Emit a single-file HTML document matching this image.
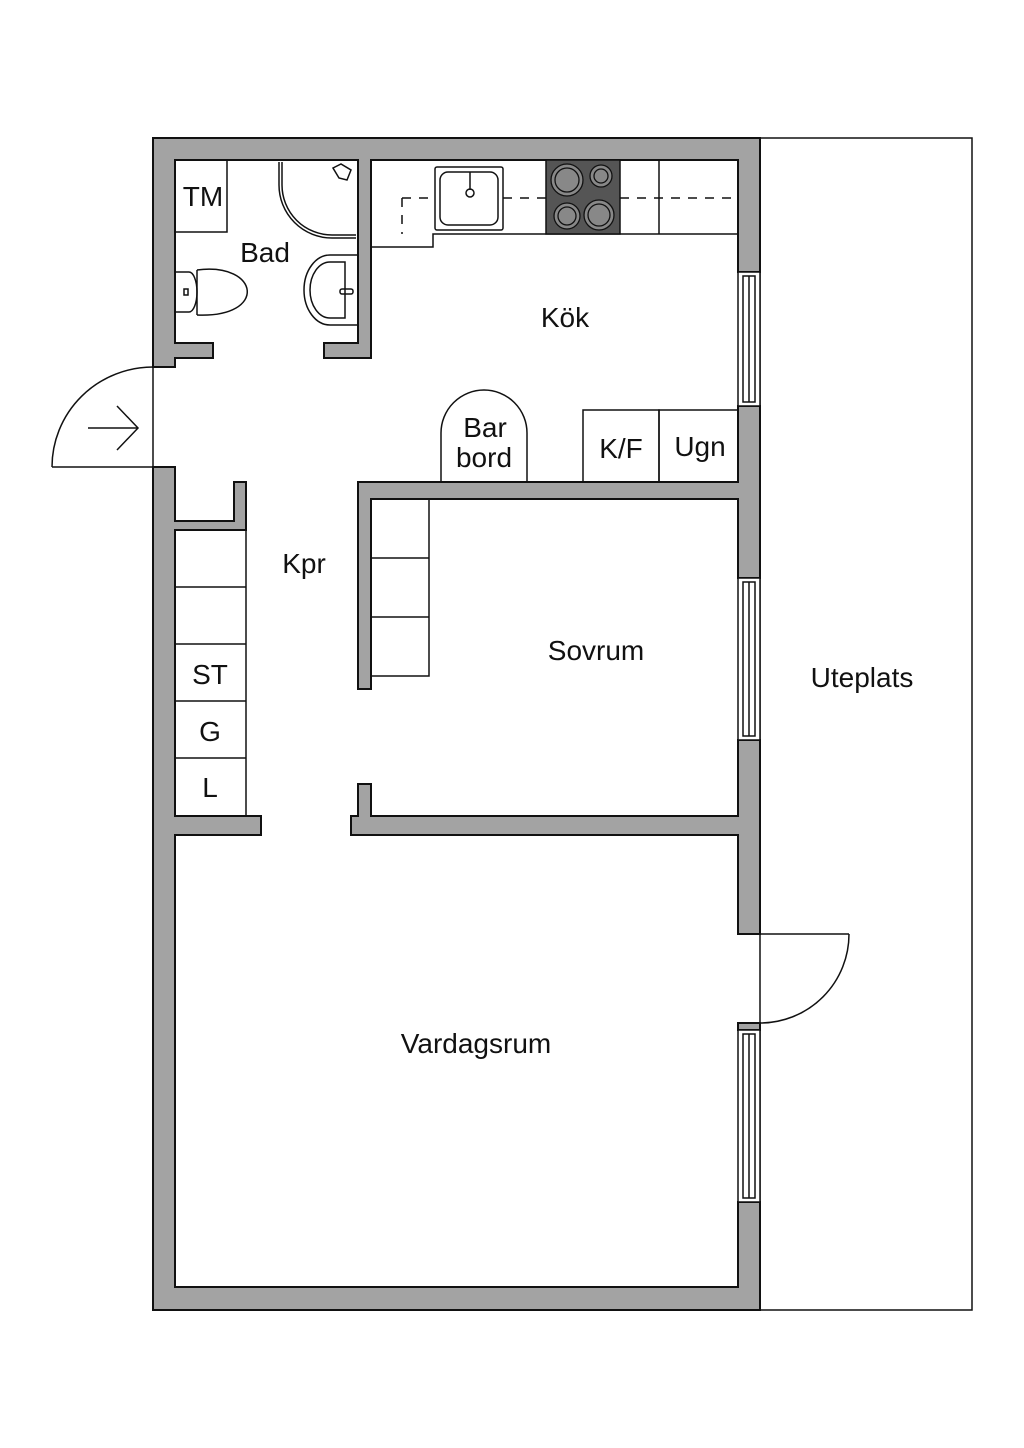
<!DOCTYPE html>
<html><head><meta charset="utf-8"><style>
html,body{margin:0;padding:0;background:#fff;}
svg{display:block;}
text{font-family:"Liberation Sans",sans-serif;font-size:28px;fill:#111;text-anchor:middle;}
</style></head><body>
<svg width="1024" height="1448" viewBox="0 0 1024 1448" xmlns="http://www.w3.org/2000/svg">
<rect x="0" y="0" width="1024" height="1448" fill="#fff"/>
<!-- patio -->
<rect x="760" y="138" width="212" height="1172" fill="none" stroke="#111" stroke-width="1.5"/>
<g id="walls" stroke="#111" stroke-width="2" fill="#a3a3a3">
<rect x="153" y="138" width="607" height="22"/>
<rect x="153" y="138" width="22" height="229"/>
<rect x="153" y="467" width="22" height="843"/>
<rect x="153" y="1287" width="607" height="23"/>
<rect x="738" y="138" width="22" height="134"/>
<rect x="738" y="406" width="22" height="172"/>
<rect x="738" y="740" width="22" height="194"/>
<rect x="738" y="1023" width="22" height="7"/>
<rect x="738" y="1202" width="22" height="108"/>
<rect x="358" y="160" width="13" height="198"/>
<rect x="175" y="343" width="38" height="15"/>
<rect x="324" y="343" width="47" height="15"/>
<rect x="234" y="482" width="12" height="48"/>
<rect x="175" y="521" width="71" height="9"/>
<rect x="175" y="816" width="86" height="19"/>
<rect x="358" y="482" width="380" height="17"/>
<rect x="358" y="482" width="13" height="207"/>
<rect x="358" y="784" width="13" height="51"/>
<rect x="351" y="816" width="387" height="19"/>
</g>
<g fill="#a3a3a3">
<rect x="154" y="139" width="605" height="20"/>
<rect x="154" y="139" width="20" height="227"/>
<rect x="154" y="468" width="20" height="841"/>
<rect x="154" y="1288" width="605" height="21"/>
<rect x="739" y="139" width="20" height="132"/>
<rect x="739" y="407" width="20" height="170"/>
<rect x="739" y="741" width="20" height="192"/>
<rect x="739" y="1203" width="20" height="106"/>
<rect x="359" y="159" width="11" height="198"/>
<rect x="172" y="344" width="40" height="13"/>
<rect x="325" y="344" width="45" height="13"/>
<rect x="235" y="483" width="10" height="46"/>
<rect x="174" y="522" width="71" height="7"/>
<rect x="174" y="817" width="86" height="17"/>
<rect x="359" y="483" width="380" height="15"/>
<rect x="359" y="483" width="11" height="205"/>
<rect x="359" y="785" width="11" height="49"/>
<rect x="352" y="817" width="387" height="17"/>
</g>
<!-- windows -->
<g fill="#fff" stroke="#111" stroke-width="1.5">
<rect x="738" y="272" width="22" height="134"/><rect x="743" y="276" width="12" height="126"/><line x1="749" y1="276" x2="749" y2="402"/>
<rect x="738" y="578" width="22" height="162"/><rect x="743" y="582" width="12" height="154"/><line x1="749" y1="582" x2="749" y2="736"/>
<rect x="738" y="1030" width="22" height="172"/><rect x="743" y="1034" width="12" height="164"/><line x1="749" y1="1034" x2="749" y2="1198"/>
</g>
<g fill="none" stroke="#111" stroke-width="1.5">
<!-- entrance door -->
<line x1="153" y1="367" x2="153" y2="467"/>
<line x1="52" y1="467" x2="153" y2="467"/>
<path d="M52,467 A101,100 0 0 1 153,367"/>
<line x1="88" y1="428" x2="137" y2="428"/>
<polyline points="117,406 138,428 117,450"/>
<!-- patio door -->
<line x1="760" y1="934" x2="849" y2="934"/>
<path d="M849,934 A89,89 0 0 1 760,1023"/>
<!-- bathroom -->
<rect x="175" y="160" width="52" height="72"/>
<path d="M279,162 V185 A53,53 0 0 0 332,238 H356"/>
<path d="M282,162 V185 A50,50 0 0 0 332,235 H356"/>
<path d="M333,168 l8,-4 l10,6 l-4,10 l-8,-2 z"/>
<path d="M175,272 h14 a8,20 0 0 1 0,40 h-14"/>
<path d="M197,270 C260,262 268,318 197,315"/>
<line x1="197" y1="270" x2="197" y2="315"/>
<rect x="184" y="289" width="4" height="6"/>
<path d="M358,255 H330 A26,35 0 0 0 330,325 H358"/>
<path d="M330,262 H345 V318 H330 A20,28 0 0 1 330,262"/>
<rect x="340" y="289" width="13" height="5" rx="2"/>
<!-- kitchen counter -->
<path d="M372,247 H433 V234 H738"/>
<rect x="435" y="167" width="68" height="63" rx="2"/>
<rect x="440" y="172" width="58" height="53" rx="8"/>
<circle cx="470" cy="193" r="4"/>
<line x1="470" y1="172" x2="470" y2="190"/>
<line x1="659" y1="160" x2="659" y2="234"/>
<path d="M402,198 H435 M503,198 H546 M620,198 H738 M402,198 V234" stroke-dasharray="9,8"/>
<!-- K/F Ugn -->
<rect x="583" y="410" width="76" height="72"/>
<rect x="659" y="410" width="79" height="72"/>
<!-- bar -->
<path d="M441,482 V433 A43,43 0 0 1 527,433 V482"/>
<!-- closets -->
<rect x="175" y="530" width="71" height="286"/>
<line x1="175" y1="587" x2="246" y2="587"/>
<line x1="175" y1="644" x2="246" y2="644"/>
<line x1="175" y1="701" x2="246" y2="701"/>
<line x1="175" y1="758" x2="246" y2="758"/>
<rect x="371" y="499" width="58" height="177"/>
<line x1="371" y1="558" x2="429" y2="558"/>
<line x1="371" y1="617" x2="429" y2="617"/>
</g>
<!-- cooktop -->
<rect x="546" y="160" width="74" height="74" fill="#555" stroke="#111" stroke-width="1.5"/>
<g stroke="#111" stroke-width="1.3" fill="#888">
<circle cx="567" cy="180" r="16"/><circle cx="567" cy="180" r="12"/>
<circle cx="601" cy="176" r="11"/><circle cx="601" cy="176" r="7"/>
<circle cx="567" cy="216" r="13"/><circle cx="567" cy="216" r="9"/>
<circle cx="599" cy="215" r="15"/><circle cx="599" cy="215" r="11"/>
</g>
<!-- labels -->
<text x="203" y="206">TM</text>
<text x="265" y="262">Bad</text>
<text x="565" y="327">Kök</text>
<text x="485" y="437">Bar</text>
<text x="484" y="467">bord</text>
<text x="621" y="458">K/F</text>
<text x="700" y="456">Ugn</text>
<text x="304" y="573">Kpr</text>
<text x="596" y="660">Sovrum</text>
<text x="862" y="687">Uteplats</text>
<text x="210" y="684">ST</text>
<text x="210" y="741">G</text>
<text x="210" y="797">L</text>
<text x="476" y="1053">Vardagsrum</text>
</svg>
</body></html>
